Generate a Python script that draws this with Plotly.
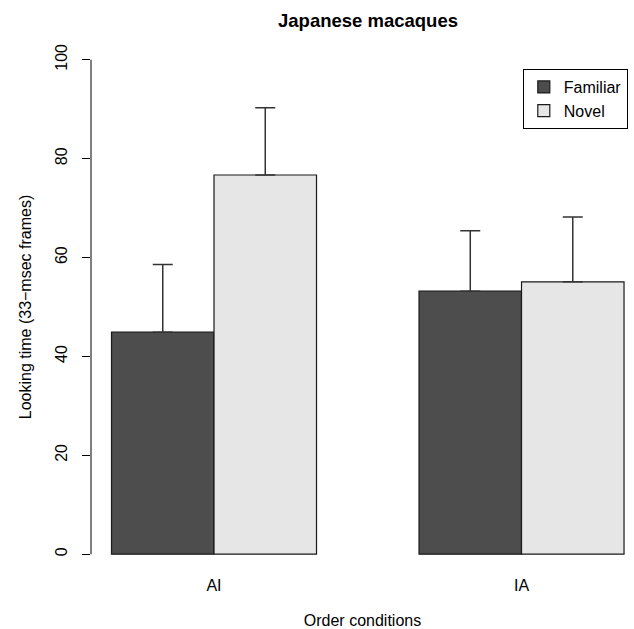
import plotly.graph_objects as go

conditions = ["AI", "IA"]
series_names = ["Familiar", "Novel"]
familiar_means = [44.9, 53.2]
novel_means = [76.7, 55.1]
familiar_err = [13.7, 12.2]
novel_err = [13.6, 13.1]
y_ticks = [0, 20, 40, 60, 80, 100]

FONT = "Liberation Sans, Arial, Helvetica, sans-serif"
W, H = 634, 629
L, T, B = 90.5, 40, 55
plot_w = W - L
px_per_unit = 102.6
x_lo = 0.8
x_hi = x_lo + plot_w / px_per_unit

# R barplot(beside=TRUE) positions: group g occupies [1+3g, 3+3g]
fam_x = [1.5 + 3 * i for i in range(len(conditions))]
nov_x = [2.5 + 3 * i for i in range(len(conditions))]
grp_x = [2.0 + 3 * i for i in range(len(conditions))]

fig = go.Figure()
fig.add_trace(go.Bar(
    x=fam_x, y=familiar_means, width=1.0, name=series_names[0],
    marker=dict(color="#4D4D4D", line=dict(color="#1a1a1a", width=1.2)),
    error_y=dict(type="data", symmetric=False, array=familiar_err,
                 arrayminus=[0] * len(familiar_err),
                 color="#333333", thickness=1.5, width=10),
))
fig.add_trace(go.Bar(
    x=nov_x, y=novel_means, width=1.0, name=series_names[1],
    marker=dict(color="#E6E6E6", line=dict(color="#1a1a1a", width=1.2)),
    error_y=dict(type="data", symmetric=False, array=novel_err,
                 arrayminus=[0] * len(novel_err),
                 color="#333333", thickness=1.5, width=10),
))

title_x = ((90.5 + 644.6) / 2 - L) / plot_w

fig.update_layout(
    width=W, height=H,
    margin=dict(l=L, r=0, t=T, b=B, pad=0),
    paper_bgcolor="white", plot_bgcolor="white",
    font=dict(family=FONT, size=16, color="black"),
    barmode="overlay",
    showlegend=True,
    legend=dict(
        x=(522.7 - L) / plot_w, xanchor="left",
        y=(H - B - 69) / (H - T - B), yanchor="top",
        bordercolor="black", borderwidth=1, bgcolor="white",
        font=dict(size=16), traceorder="normal",
        itemwidth=30,
    ),
    xaxis=dict(
        range=[x_lo, x_hi], showgrid=False, zeroline=False, showline=False,
        tickmode="array", tickvals=grp_x, ticktext=conditions,
        ticks="", ticklabelstandoff=0,
        title=dict(text="Order conditions", standoff=22, font=dict(size=16)),
    ),
    yaxis=dict(
        range=[-4, 104], showgrid=False, zeroline=False, showline=False,
        tickmode="array", tickvals=y_ticks, ticktext=[str(v) for v in y_ticks],
        ticks="outside", ticklen=8, tickwidth=1, tickcolor="black",
        tickangle=-90, ticklabelstandoff=9,
        title=dict(text="Looking time (33\u2212msec frames)", standoff=16, font=dict(size=16)),
    ),
    shapes=[dict(type="line", xref="paper", yref="y", x0=0, x1=0, y0=0, y1=100,
                 line=dict(color="black", width=1))],
    annotations=[dict(text="<b>Japanese macaques</b>", xref="paper", yref="paper",
                      x=title_x, y=1, yshift=20, xanchor="center", yanchor="middle",
                      showarrow=False, font=dict(size=18.5))],
)

fig.write_html(
    "out.html",
    config={"displayModeBar": False},
    post_script="document.body.style.margin='0';document.body.style.padding='0';document.body.style.overflow='hidden';",
)
